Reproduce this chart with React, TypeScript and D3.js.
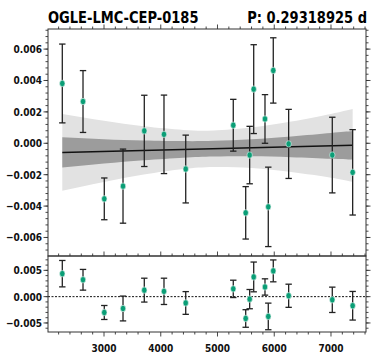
import React from 'react';
import * as d3 from 'd3';

const obsTime = [2265, 2630, 3005, 3335, 3710, 4057, 4440, 5278, 5497, 5567, 5638, 5837, 5895, 5983, 6254, 7023, 7382];
const obsValue = [0.00381, 0.00266, -0.00354, -0.00273, 0.00079, 0.00057, -0.00164, 0.00115, -0.00443, -0.00075, 0.00345, 0.00155, -0.00405, 0.00464, -0.00004, -0.00075, -0.00185];
const obsError = [0.00251, 0.00197, 0.00133, 0.00236, 0.00227, 0.0025, 0.00216, 0.00165, 0.00167, 0.00183, 0.00283, 0.00155, 0.00253, 0.00208, 0.0022, 0.00241, 0.00272];
const residual = [0.00437, 0.00321, -0.00301, -0.00225, 0.00124, 0.00101, -0.0012, 0.00148, -0.00415, -0.00047, 0.00375, 0.00184, -0.00376, 0.0049, 0.00017, -0.0006, -0.00173];

// linear fit and its confidence bands
const fitTime = [2265, 7382];
const fitValue = [-0.00058, -0.00013];
const bandTime = [2265, 3000, 3700, 4400, 4930, 5600, 6300, 7000, 7382];
const darkHi = [0.00039, 0.000265, 0.000176, 0.000138, 0.000154, 0.000253, 0.000435, 0.000656, 0.00078];
const darkLo = [-0.00155, -0.001295, -0.001084, -0.000922, -0.000846, -0.000827, -0.000885, -0.000984, -0.00104];
const lightHi = [0.00186, 0.00143, 0.00108, 0.00085, 0.00082, 0.001, 0.00138, 0.00187, 0.00218];
const lightLo = [-0.00302, -0.00246, -0.00199, -0.00164, -0.00151, -0.00157, -0.00183, -0.00219, -0.00245];

// ticks
const xTicks = [3000, 4000, 5000, 6000, 7000];
const yTicksTop = [-0.006, -0.004, -0.002, 0, 0.002, 0.004, 0.006];
const yTicksBot = [-0.005, 0, 0.005];

const title = 'OGLE-LMC-CEP-0185';
const periodLabel = 'P: 0.29318925 d';

const W = 379;
const H = 363;
const left = 48;
const right = 366;
const topY = 29;
const midY = 256;
const botY = 332;
const dotColor = '#0a9e76';
const frameColor = '#333';
const font = 'DejaVu Sans, sans-serif';
const sx = 0.82; // labels in the reference are squeezed horizontally

const fmt = (v: number, d: number) => (v < 0 ? '\u2212' : '') + Math.abs(v).toFixed(d);

const App = () => {
  const x = d3.scaleLinear().domain([2013, 7617]).range([left, right]);
  const yTop = d3.scaleLinear().domain([-0.00718, 0.00728]).range([midY, topY]);
  const yBot = d3.scaleLinear().domain([-0.00672, 0.00773]).range([botY, midY]);

  const band = (hi: number[], lo: number[]) =>
    d3.area<number>()
      .x(i => x(bandTime[i]))
      .y0(i => yTop(lo[i]))
      .y1(i => yTop(hi[i]))
      .curve(d3.curveNatural)(d3.range(bandTime.length)) as string;

  const fitLine = d3.line<number>()
    .x(i => x(fitTime[i]))
    .y(i => yTop(fitValue[i]))(d3.range(fitTime.length)) as string;

  const xMinor = d3.range(2200, 7601, 200);
  const yMinorTop = d3.range(-0.0068, 0.00721, 0.0004);
  const yMinorBot = d3.range(-0.006, 0.00701, 0.001);

  // vertical ticks on left/right edges of a panel, pointing outward
  const sideTicks = (scale: d3.ScaleLinear<number, number>, major: number[], minor: number[], key: string) => (
    <g key={key} stroke={frameColor} strokeWidth={0.9}>
      {minor.map((v, i) => (
        <g key={'m' + i}>
          <line x1={left - 2.5} x2={left} y1={scale(v)} y2={scale(v)} />
          <line x1={right} x2={right + 2.5} y1={scale(v)} y2={scale(v)} />
        </g>
      ))}
      {major.map((v, i) => (
        <g key={'M' + i}>
          <line x1={left - 4.5} x2={left} y1={scale(v)} y2={scale(v)} />
          <line x1={right} x2={right + 4.5} y1={scale(v)} y2={scale(v)} />
        </g>
      ))}
    </g>
  );

  // horizontal ticks at a given y, dir = -1 up, +1 down
  const edgeTicks = (y0: number, dir: number, key: string) => (
    <g key={key} stroke={frameColor} strokeWidth={0.9}>
      {xMinor.map((v, i) => (
        <line key={i} x1={x(v)} x2={x(v)} y1={y0} y2={y0 + dir * (xTicks.includes(v) ? 4.5 : 2.5)} />
      ))}
    </g>
  );

  const errorBars = (scale: d3.ScaleLinear<number, number>, vals: number[]) =>
    obsTime.map((t, i) => {
      const cx = x(t);
      const y1 = scale(vals[i] + obsError[i]);
      const y2 = scale(vals[i] - obsError[i]);
      return (
        <g key={i} stroke="#222" strokeWidth={1.3}>
          <line x1={cx} x2={cx} y1={y1} y2={y2} />
          <line x1={cx - 3.2} x2={cx + 3.2} y1={y1} y2={y1} />
          <line x1={cx - 3.2} x2={cx + 3.2} y1={y2} y2={y2} />
        </g>
      );
    });

  const dots = (scale: d3.ScaleLinear<number, number>, vals: number[]) =>
    obsTime.map((t, i) => (
      <ellipse key={i} cx={x(t)} cy={scale(vals[i])} rx={2.7} ry={3.2}
        fill={dotColor} stroke="#e8f4f0" strokeWidth={0.6} />
    ));

  return (
    <svg width={W} height={H} style={{ position: 'absolute', left: 0, top: 0, background: '#fff' }}>
      {/* title */}
      <text transform={`translate(${left},22.5) scale(0.87,1)`} fontFamily={font} fontWeight="bold" fontSize={15}>{title}</text>
      <text transform={`translate(367,22.5) scale(0.87,1)`} textAnchor="end" fontFamily={font} fontWeight="bold" fontSize={15}>{periodLabel}</text>

      {/* top panel */}
      <path d={band(lightHi, lightLo)} fill="#e2e2e2" />
      <path d={band(darkHi, darkLo)} fill="#9c9c9c" />
      <path d={fitLine} stroke="#111" strokeWidth={1.5} fill="none" />
      {errorBars(yTop, obsValue)}
      {dots(yTop, obsValue)}

      {/* bottom panel */}
      <line x1={left} x2={right} y1={yBot(0)} y2={yBot(0)} stroke="#111" strokeWidth={1} strokeDasharray="2,1.5" />
      {errorBars(yBot, residual)}
      {dots(yBot, residual)}

      {/* frames */}
      <rect x={left} y={topY} width={right - left} height={midY - topY} fill="none" stroke={frameColor} strokeWidth={1} />
      <rect x={left} y={midY} width={right - left} height={botY - midY} fill="none" stroke={frameColor} strokeWidth={1} />

      {sideTicks(yTop, yTicksTop, yMinorTop, 'st')}
      {sideTicks(yBot, yTicksBot, yMinorBot, 'sb')}
      {edgeTicks(topY, -1, 'et')}
      {edgeTicks(midY, -1, 'em')}
      {edgeTicks(botY, 1, 'eb')}

      {/* tick labels */}
      <g fontFamily={font} fontWeight="bold" fontSize={11} fill="#111">
        {yTicksTop.map((v, i) => (
          <text key={'yt' + i} transform={`translate(${left - 6},${yTop(v)}) scale(${sx},1)`}
            textAnchor="end" dy="0.36em">{fmt(v, 3)}</text>
        ))}
        {yTicksBot.map((v, i) => (
          <text key={'yb' + i} transform={`translate(${left - 6},${yBot(v)}) scale(${sx},1)`}
            textAnchor="end" dy="0.36em">{fmt(v, 3)}</text>
        ))}
        {xTicks.map((v, i) => (
          <text key={'x' + i} transform={`translate(${x(v)},${351.5}) scale(${sx},1)`}
            textAnchor="middle">{v}</text>
        ))}
      </g>
    </svg>
  );
};

export default App;
